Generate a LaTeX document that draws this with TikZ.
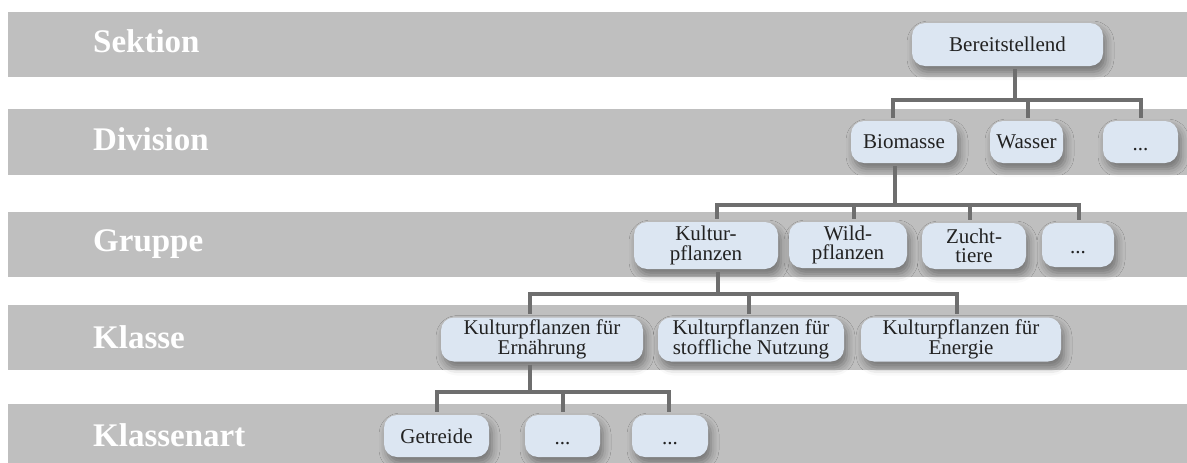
\documentclass[tikz,border=0pt]{standalone}
\usepackage{fontspec}
\setmainfont{Liberation Serif}
\usetikzlibrary{shadows.blur}
\definecolor{bandgray}{HTML}{BFBFBF}
\definecolor{boxfill}{HTML}{DCE6F2}
\definecolor{wiregray}{HTML}{6E6E6E}
\definecolor{ink}{HTML}{222222}
\newcommand{\dotsbox}{\rule{0pt}{17pt}...}
\begin{document}
\begin{tikzpicture}[x=1pt,y=-1pt,
 lbl/.style={anchor=base west, text=white, font=\fontsize{33}{33}\selectfont\bfseries, inner sep=0pt},
 box/.style={rounded corners=13pt, fill=boxfill, text=ink, align=center, inner sep=0pt,
   font=\fontsize{21}{19.5}\selectfont,
   blur shadow={shadow xshift=3pt, shadow yshift=-6pt, shadow blur radius=8pt, shadow opacity=40}},
 wire/.style={draw=wiregray, line width=4pt, shorten <=3pt, shorten >=3pt}
]
\useasboundingbox (0,0) rectangle (1187,463);
% bands
\fill[bandgray] (8,12) rectangle (1187,77);
\fill[bandgray] (8,109) rectangle (1187,175);
\fill[bandgray] (8,212) rectangle (1187,277);
\fill[bandgray] (8,305) rectangle (1187,370);
\fill[bandgray] (8,404) rectangle (1187,463);
% level labels
\node[lbl] (lsek) at (93,52) {Sektion};
\node[lbl] (ldiv) at (93,150) {Division};
\node[lbl] (lgru) at (93,251) {Gruppe};
\node[lbl] (lkla) at (93,348) {Klasse};
\node[lbl] (lart) at (93,446) {Klassenart};
% nodes
\node[box, minimum width=191, minimum height=43] (ber) at (1007.5,44.5) {Bereitstellend};
\node[box, minimum width=106, minimum height=42] (bio) at (904,142) {Biomasse};
\node[box, minimum width=73, minimum height=42] (was) at (1026.5,142) {Wasser};
\node[box, minimum width=75, minimum height=42] (dda) at (1140.5,142) {\dotsbox};
\node[box, minimum width=144, minimum height=47] (kul) at (706,245.5) {Kultur-\\pflanzen};
\node[box, minimum width=118, minimum height=46] (wil) at (848,245) {Wild-\\pflanzen};
\node[box, minimum width=104, minimum height=46] (zuc) at (974,246) {Zucht-\\tiere};
\node[box, minimum width=72, minimum height=44] (ddb) at (1078,245) {\dotsbox};
\node[box, minimum width=202, minimum height=44] (kea) at (542,339.5) {Kulturpflanzen für\\Ernährung};
\node[box, minimum width=186, minimum height=44] (keb) at (751,339.5) {Kulturpflanzen für\\stoffliche Nutzung};
\node[box, minimum width=200, minimum height=44] (kec) at (961,339.5) {Kulturpflanzen für\\Energie};
\node[box, minimum width=105, minimum height=42] (get) at (436.5,436) {Getreide};
\node[box, minimum width=75, minimum height=42] (ddc) at (562.5,436) {\dotsbox};
\node[box, minimum width=76, minimum height=42] (ddd) at (670,436) {\dotsbox};
% bus points
\coordinate (b1) at (1015,100);
\coordinate (b2) at (895,205);
\coordinate (b3) at (718,294);
\coordinate (b4) at (530,392);
% connectors
\draw[wire, shorten >=0pt] (b1 |- ber.south) -- (b1);
\draw[wire, shorten <=0pt] (b1) -| ([xshift=-11pt]bio.north);
\draw[wire, shorten <=0pt] (b1) -| ([xshift=1.5pt]was.north);
\draw[wire, shorten <=0pt] (b1) -| (dda.north);
\draw[wire, shorten >=0pt] (b2 |- bio.south) -- (b2);
\draw[wire, shorten <=0pt] (b2) -| ([xshift=11pt]kul.north);
\draw[wire, shorten <=0pt] (b2) -| ([xshift=6pt]wil.north);
\draw[wire, shorten <=0pt] (b2) -| ([xshift=-4pt]zuc.north);
\draw[wire, shorten <=0pt] (b2) -| ([xshift=1pt]ddb.north);
\draw[wire, shorten >=0pt] (b3 |- kul.south) -- (b3);
\draw[wire, shorten <=0pt] (b3) -| ([xshift=-12pt]kea.north);
\draw[wire, shorten <=0pt] (b3) -| ([xshift=-2pt]keb.north);
\draw[wire, shorten <=0pt] (b3) -| ([xshift=-4pt]kec.north);
\draw[wire, shorten >=0pt] (b4 |- kea.south) -- (b4);
\draw[wire, shorten <=0pt] (b4) -| ([xshift=0.5pt]get.north);
\draw[wire, shorten <=0pt] (b4) -| (ddc.north);
\draw[wire, shorten <=0pt] (b4) -| ([xshift=-1pt]ddd.north);
\end{tikzpicture}
\end{document}
